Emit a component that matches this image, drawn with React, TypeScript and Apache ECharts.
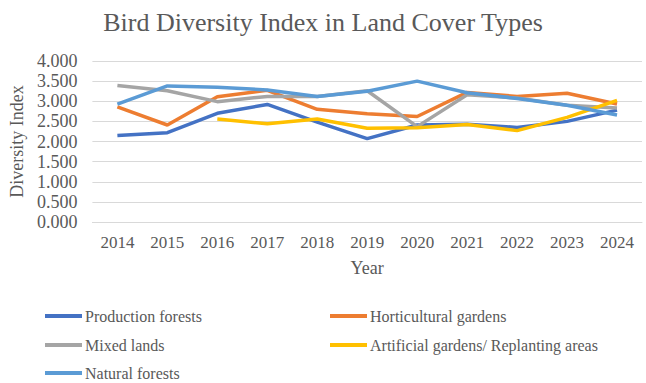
import React, { useEffect, useRef } from "react";
import * as echarts from "echarts";

const years = ["2014", "2015", "2016", "2017", "2018", "2019", "2020", "2021", "2022", "2023", "2024"];
const productionForests = [2.15, 2.22, 2.70, 2.92, 2.48, 2.07, 2.41, 2.43, 2.35, 2.50, 2.78];
const horticulturalGardens = [2.86, 2.41, 3.11, 3.27, 2.80, 2.69, 2.62, 3.22, 3.12, 3.20, 2.93];
const mixedLands = [3.39, 3.26, 2.99, 3.12, 3.12, 3.26, 2.37, 3.16, 3.08, 2.90, 2.83];
const artificialGardens = [null, null, 2.56, 2.44, 2.56, 2.33, 2.34, 2.42, 2.27, 2.60, 3.02];
const naturalForests = [2.93, 3.38, 3.35, 3.28, 3.12, 3.25, 3.50, 3.21, 3.07, 2.90, 2.66];

const seriesNames = [
  "Production forests",
  "Horticultural gardens",
  "Mixed lands",
  "Artificial gardens/ Replanting areas",
  "Natural forests",
];
const seriesData = [productionForests, horticulturalGardens, mixedLands, artificialGardens, naturalForests];
const colors = ["#4472C4", "#ED7D31", "#A5A5A5", "#FFC000", "#5B9BD5"];

const FONT = "'Liberation Serif', 'Times New Roman', serif";
const TEXT = "#595959";

export default function App() {
  const ref = useRef<HTMLDivElement>(null);
  useEffect(() => {
    if (!ref.current) return;
    const chart = echarts.init(ref.current, undefined, { renderer: "svg" });
    const legendPos = [
      { left: 45, top: 308 },
      { left: 330, top: 308 },
      { left: 45, top: 337 },
      { left: 330, top: 337 },
      { left: 45, top: 365 },
    ];
    chart.setOption({
      animation: false,
      backgroundColor: "#fff",
      color: colors,
      title: {
        text: "Bird Diversity Index in Land Cover Types",
        left: "center",
        top: 4,
        textStyle: { fontFamily: FONT, fontSize: 26, fontWeight: "normal", color: TEXT },
      },
      legend: seriesNames.map((n, i) => ({
        data: [n],
        left: legendPos[i].left,
        top: legendPos[i].top,
        padding: 0,
        icon: "rect",
        itemWidth: 37,
        itemHeight: 4,
        itemGap: 3,
        textStyle: { fontFamily: FONT, fontSize: 16, color: TEXT, padding: [0, 0, 0, -2] },
      })),
      grid: { left: 90, right: 4, top: 61, bottom: 161 },
      xAxis: {
        type: "category",
        data: years,
        name: "Year",
        nameLocation: "middle",
        nameGap: 37,
        nameTextStyle: { fontFamily: FONT, fontSize: 18, color: TEXT },
        axisLine: { lineStyle: { color: "#d9d9d9" } },
        axisTick: { show: false },
        axisLabel: { fontFamily: FONT, fontSize: 17, color: TEXT, margin: 12 },
      },
      yAxis: {
        type: "value",
        min: 0,
        max: 4,
        interval: 0.5,
        name: "Diversity Index",
        nameLocation: "middle",
        nameGap: 56,
        nameTextStyle: { fontFamily: FONT, fontSize: 18, color: TEXT },
        axisLabel: {
          fontFamily: FONT,
          fontSize: 18,
          color: TEXT,
          margin: 15,
          formatter: (v: number) => v.toFixed(3),
        },
        splitLine: { lineStyle: { color: "#d9d9d9" } },
      },
      series: seriesNames.map((n, i) => ({
        name: n,
        type: "line",
        data: seriesData[i],
        symbol: "none",
        lineStyle: { width: 3.5, color: colors[i] },
        itemStyle: { color: colors[i] },
        z: 2 + i,
      })),
    });
    return () => chart.dispose();
  }, []);
  return <div ref={ref} style={{ position: "fixed", left: 0, top: 0, width: 646, height: 383 }} />;
}
